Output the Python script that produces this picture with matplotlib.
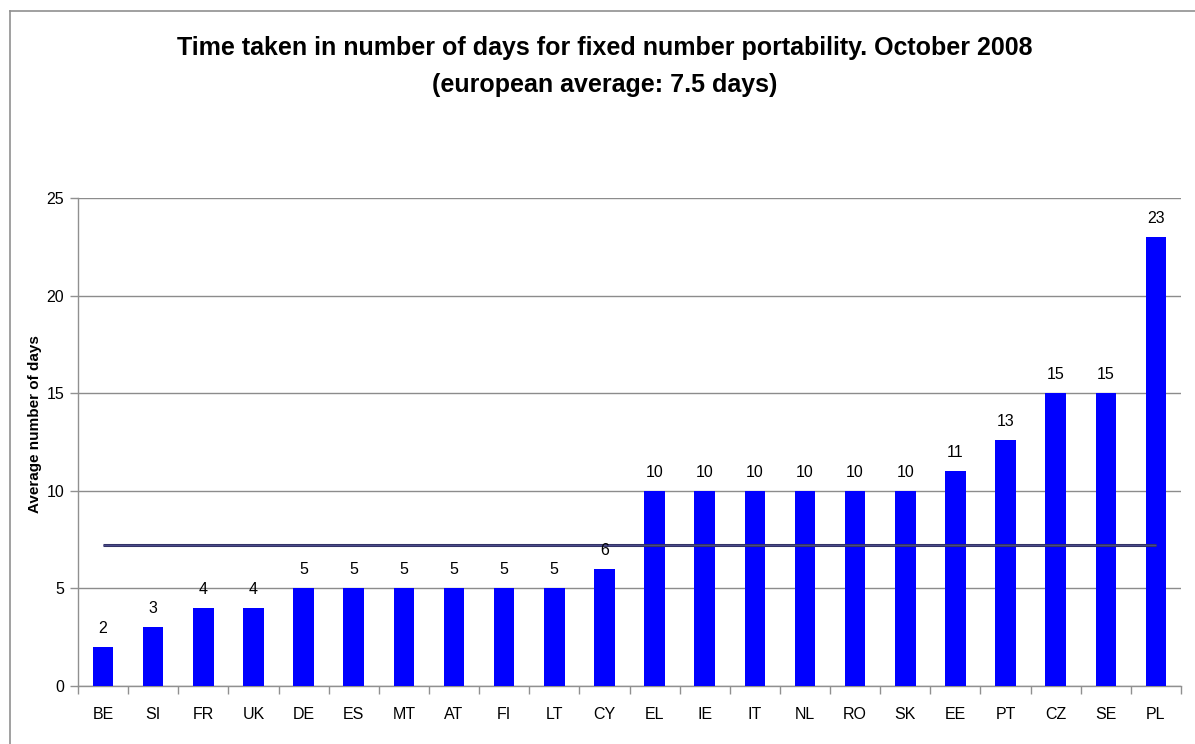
import matplotlib
matplotlib.use("Agg")
import matplotlib.pyplot as plt
from matplotlib.lines import Line2D

countries = ["BE", "SI", "FR", "UK", "DE", "ES", "MT", "AT", "FI", "LT", "CY",
             "EL", "IE", "IT", "NL", "RO", "SK", "EE", "PT", "CZ", "SE", "PL"]
days = [2, 3, 4, 4, 5, 5, 5, 5, 5, 5, 6, 10, 10, 10, 10, 10, 10, 11, 12.6, 15, 15, 23]
day_labels = ["2", "3", "4", "4", "5", "5", "5", "5", "5", "5", "6",
              "10", "10", "10", "10", "10", "10", "11", "13", "15", "15", "23"]
average = [7.2] * len(countries)
yticks = [0, 5, 10, 15, 20, 25]

plt.rcParams['font.family'] = ['Liberation Sans', 'DejaVu Sans']

W, H = 1195, 744
fig = plt.figure(figsize=(W / 100, H / 100), dpi=100)
ax = fig.add_axes([78 / W, 1 - 686 / H, (1181 - 78) / W, (686 - 198) / H])

x = list(range(len(countries)))
ax.bar(x, days, width=0.41, color="#0000FF", zorder=3)
ax.plot(x, average, color="#333366", lw=2.2, zorder=4, solid_capstyle="butt")
ax.plot(x, average, color="#4a4a8a", lw=0.8, zorder=4, solid_capstyle="butt")

for xi, v, lab in zip(x, days, day_labels):
    ax.annotate(lab, (xi, v), xytext=(0, 8), textcoords="offset points",
                ha="center", va="bottom", fontsize=11.5, color="black", zorder=5)

ax.set_xlim(-0.5, len(countries) - 0.5)
ax.set_ylim(0, 25)
ax.set_yticks(yticks)
ax.set_yticklabels([str(t) for t in yticks], fontsize=11.5)
ax.set_xticks([i - 0.5 for i in range(len(countries) + 1)])
ax.set_xticklabels([])
ax.set_xticks(x, minor=True)
ax.set_xticklabels(countries, minor=True, fontsize=11.5)
ax.tick_params(axis="x", which="minor", length=0, pad=15)
ax.tick_params(axis="x", which="major", length=6, color="#909090", width=1)
ax.tick_params(axis="y", length=6, color="#909090", width=1, pad=4)
ax.grid(axis="y", color="#8c8c8c", lw=1, zorder=1)
for s in ["top", "right"]:
    ax.spines[s].set_visible(False)
for s in ["left", "bottom"]:
    ax.spines[s].set_color("#909090")
    ax.spines[s].set_linewidth(1)

ax.set_ylabel("Average number of days", fontsize=11, fontweight="bold")
ax.yaxis.set_label_coords((42 - 78) / (1181 - 78), (686 - 424) / (686 - 198))

fig.text(605 / W, 1 - 48 / H,
         "Time taken in number of days for fixed number portability. October 2008",
         ha="center", va="center", fontsize=18, fontweight="bold")
fig.text(605 / W, 1 - 85 / H, "(european average: 7.5 days)",
         ha="center", va="center", fontsize=18, fontweight="bold")

fig.add_artist(Line2D([10 / W, 10 / W], [0, 1 - 11 / H], transform=fig.transFigure,
                      color="#909090", lw=1.2))
fig.add_artist(Line2D([10 / W, 1], [1 - 11 / H, 1 - 11 / H], transform=fig.transFigure,
                      color="#909090", lw=1.2))

fig.savefig("out.png", dpi=100)
